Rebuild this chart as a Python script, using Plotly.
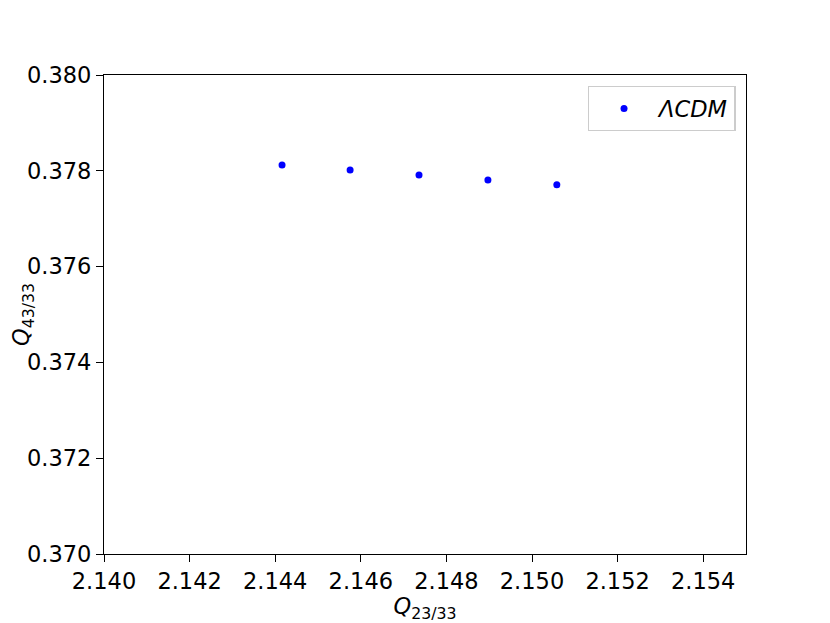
import plotly.graph_objects as go

q23 = [2.14416, 2.14575, 2.14736, 2.14897, 2.15058]
q43 = [0.378121, 0.378017, 0.377912, 0.377810, 0.377710]
x_ticks = [2.140, 2.142, 2.144, 2.146, 2.148, 2.150, 2.152, 2.154]
y_ticks = [0.370, 0.372, 0.374, 0.376, 0.378, 0.380]

FS = 22.5

fig = go.Figure()
fig.add_trace(go.Scatter(
    x=q23, y=q43, mode="markers", name="<i>ΛCDM</i>",
    marker=dict(color="blue", size=7, line=dict(width=0)),
))

axis_common = dict(
    showline=True, linecolor="black", linewidth=1.3, mirror=True,
    ticks="outside", ticklen=7, tickwidth=1.3, tickcolor="black",
    showgrid=False, zeroline=False, automargin=False,
    tickfont=dict(family="DejaVu Sans", size=FS, color="black"),
)

fig.update_layout(
    width=822, height=615,
    margin=dict(l=96, r=84, t=67, b=69),
    paper_bgcolor="white", plot_bgcolor="white",
    font=dict(family="DejaVu Sans", size=FS, color="black"),
    xaxis=dict(range=[2.140, 2.155], tickvals=x_ticks,
               ticktext=[f"{v:.3f}" for v in x_ticks],
               title=dict(text="<i>Q</i><sub>23/33</sub>", standoff=4,
                          font=dict(family="DejaVu Sans", size=FS)),
               **axis_common),
    yaxis=dict(range=[0.370, 0.380], tickvals=y_ticks,
               ticktext=[f"{v:.3f}" for v in y_ticks],
               title=dict(text="<i>Q</i><sub>43/33</sub>", standoff=2,
                          font=dict(family="DejaVu Sans", size=FS)),
               **axis_common),
    showlegend=True,
    legend=dict(x=0.984, y=0.977, xanchor="right", yanchor="top",
                bordercolor="#cccccc", borderwidth=1.3, bgcolor="white",
                itemwidth=60,
                font=dict(family="DejaVu Sans", size=FS)),
)

fig.write_html("out.html")
